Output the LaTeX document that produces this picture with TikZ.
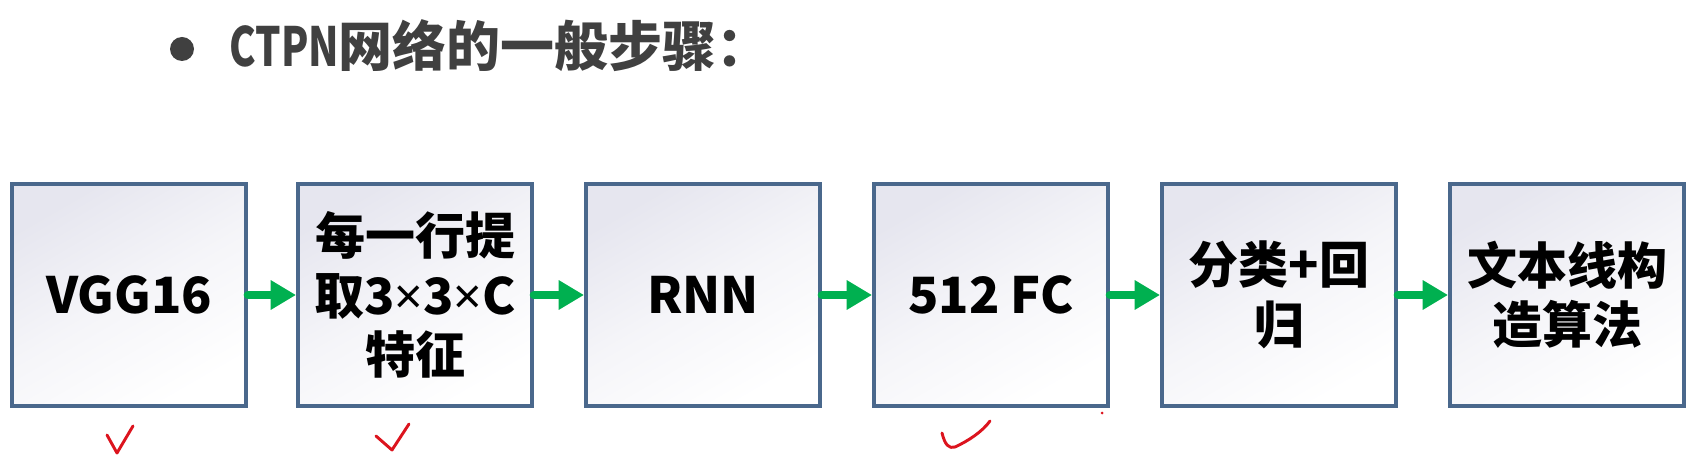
\documentclass[tikz,border=0pt]{standalone}
\usepackage{fontspec}
\usepackage{graphicx}
\setmainfont{Noto Sans CJK SC}
\newfontfamily\latinsans{Noto Sans}
\usepackage{tikz}
\usetikzlibrary{shapes,arrows.meta}

\definecolor{boxline}{RGB}{74,104,140}
\definecolor{boxtop}{RGB}{230,230,239}
\definecolor{flowgreen}{RGB}{0,176,80}
\definecolor{titlegray}{RGB}{64,64,64}
\definecolor{tickred}{RGB}{220,20,30}

\newcommand{\tms}{{\latinsans\mdseries ×}}

\tikzset{
  stepbox/.style={draw=boxline, line width=3pt, top color=boxtop, bottom color=white, middle color=boxtop!40!white, shading angle=30,
    minimum width=175.5pt, minimum height=166.5pt, inner sep=0pt, align=center,
    font=\fontsize{37.5}{44.5}\selectfont\bfseries},
  flow/.style={draw=flowgreen, line width=6.5pt, line cap=round, -{Triangle[length=19pt,width=21pt]}},
  tick/.style={draw=tickred, line width=2.2pt, line cap=round, line join=round}
}

\begin{document}
\begin{tikzpicture}[x=0.75pt,y=0.75pt,yscale=-1,xscale=1]
    %set diagram left start at 0, and has height of 466
    \useasboundingbox (0,0) rectangle (1695,466);
    
    %Bullet [id:bullet]
    \node [circle, fill=titlegray, minimum size=18pt, inner sep=0pt] (bullet) at (182,49) {};
    % Text Node
    \node [anchor=base west, inner sep=0pt, text=titlegray, font=\fontsize{40.5}{40.5}\selectfont\bfseries] (title) at (229,67) {\scalebox{0.74}[1]{CTPN}网络的一般步骤：};
    
    %Shape: Rectangle [id:vgg]
    \node [stepbox] (vgg) at (129,295) {VGG16};
    %Shape: Rectangle [id:feat]
    \node [stepbox] (feat) at (415,295) {每一行提\\取3\tms3\tms C\\特征};
    %Shape: Rectangle [id:rnn]
    \node [stepbox] (rnn) at (703,295) {RNN};
    %Shape: Rectangle [id:fc]
    \node [stepbox] (fc) at (991,295) {512 FC};
    %Shape: Rectangle [id:clsreg]
    \node [stepbox] (clsreg) at (1279,295) {分类+回\\归};
    %Shape: Rectangle [id:textline]
    \node [stepbox] (textline) at (1567,295) {文本线构\\造算法};
    
    %Straight Lines [id:arrows]
    \draw [flow] (vgg.east) -- (feat.west);
    \draw [flow] (feat.east) -- (rnn.west);
    \draw [flow] (rnn.east) -- (fc.west);
    \draw [flow] (fc.east) -- (clsreg.west);
    \draw [flow] (clsreg.east) -- (textline.west);
    
    %Hand ticks
    \draw [tick] (107,435) -- (117,453) -- (133,426);
    \draw [tick] (376,436) -- (392,450) -- (409,424);
    \draw [tick] (942,433) .. controls (945,445) and (949,449) .. (955,447) .. controls (968,441) and (982,432) .. (990,421);
    \fill [tickred] (1102,413) circle (1.5);
    
\end{tikzpicture}
\end{document}
